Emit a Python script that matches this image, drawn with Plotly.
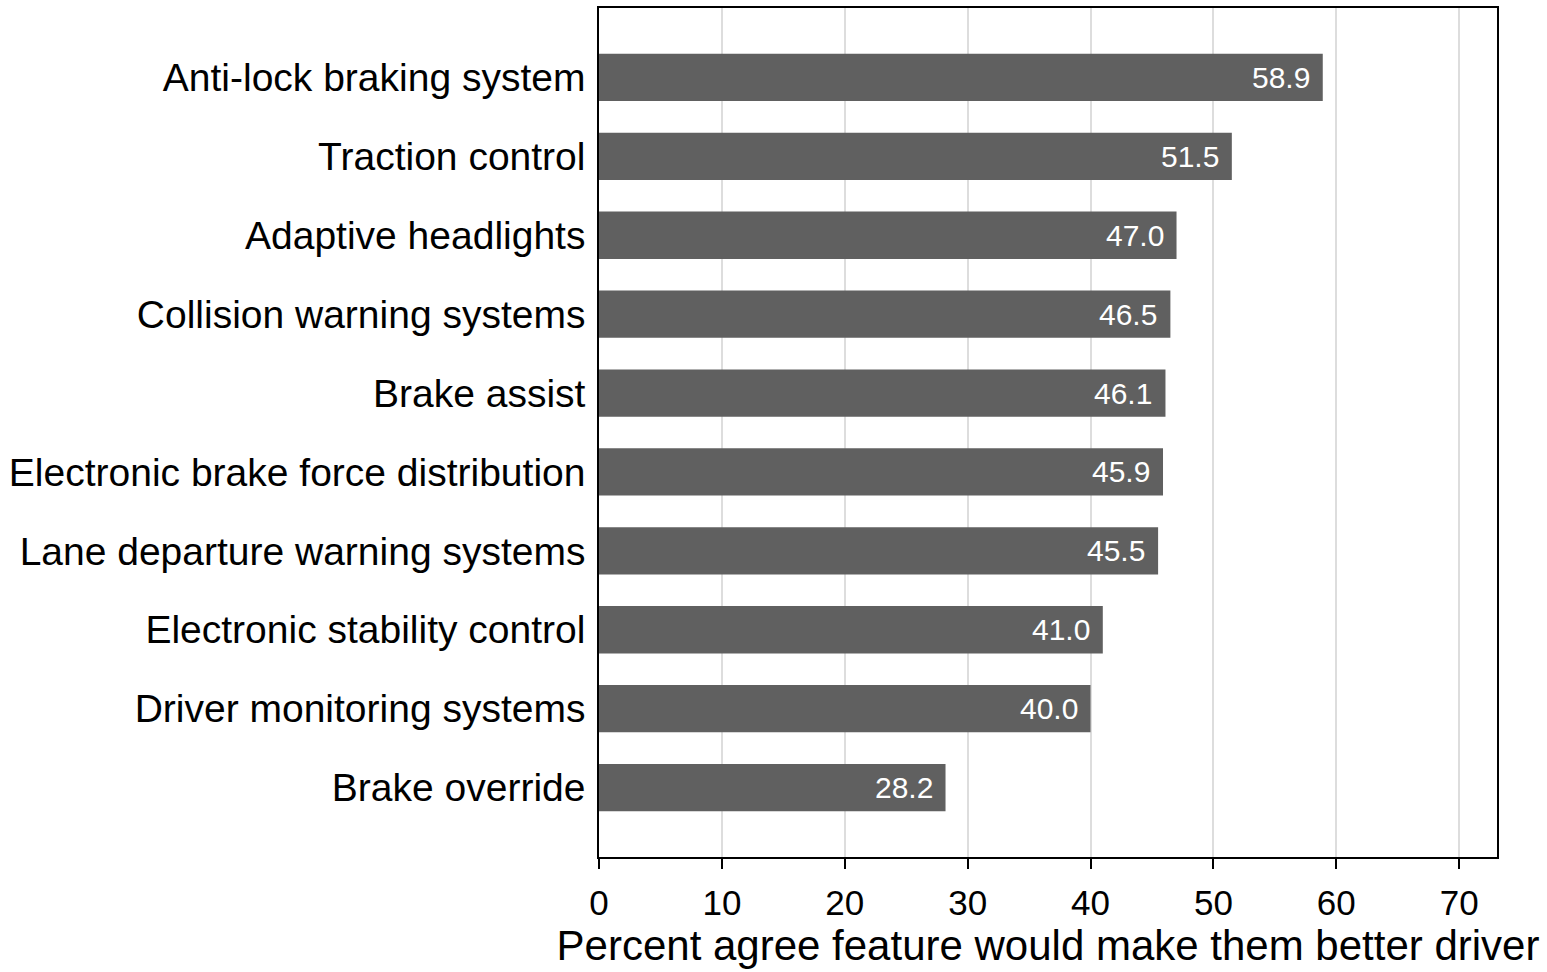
import plotly.graph_objects as go

categories = [
    "Anti-lock braking system",
    "Traction control",
    "Adaptive headlights",
    "Collision warning systems",
    "Brake assist",
    "Electronic brake force distribution",
    "Lane departure warning systems",
    "Electronic stability control",
    "Driver monitoring systems",
    "Brake override",
]
values = [58.9, 51.5, 47.0, 46.5, 46.1, 45.9, 45.5, 41.0, 40.0, 28.2]
x_ticks = [0, 10, 20, 30, 40, 50, 60, 70]

FONT = "Arial, Liberation Sans, sans-serif"

fig = go.Figure()
fig.add_trace(go.Bar(
    x=values,
    y=categories,
    orientation="h",
    width=0.6,
    marker=dict(color="#606060", line=dict(width=0)),
    hoverinfo="x+y",
))

for v, c in zip(values, categories):
    fig.add_annotation(
        x=v, y=c, text=f"{v:.1f}", showarrow=False,
        xanchor="right", yanchor="middle", xshift=-11,
        font=dict(family=FONT, size=30, color="white"),
    )

fig.update_layout(
    width=1547, height=972,
    margin=dict(l=599, r=50, t=6, b=115),
    paper_bgcolor="white", plot_bgcolor="white",
    showlegend=False,
    font=dict(family=FONT, size=32, color="black"),
)
fig.update_xaxes(
    range=[0, 73.08],
    tickvals=x_ticks,
    ticktext=[str(t) for t in x_ticks],
    ticks="outside", ticklen=10, tickwidth=1.5, tickcolor="black",
    showgrid=True, gridcolor="#dddddd", gridwidth=2,
    showline=True, linecolor="black", linewidth=1.5, mirror=True,
    zeroline=False, ticklabelstandoff=4,
    tickfont=dict(family=FONT, size=35, color="black"),
    title=dict(text="Percent agree feature would make them better driver",
               font=dict(family=FONT, size=42, color="black"), standoff=2),
)
fig.update_yaxes(
    categoryorder="array", categoryarray=categories,
    range=[9.88, -0.88],
    showgrid=False, ticks="", ticklabelstandoff=4,
    showline=True, linecolor="black", linewidth=1.5, mirror=True,
    zeroline=False,
    tickfont=dict(family=FONT, size=39, color="black"),
)

fig.write_html("out.html", config={"displayModeBar": False},
               post_script="document.body.style.margin='0px';")
